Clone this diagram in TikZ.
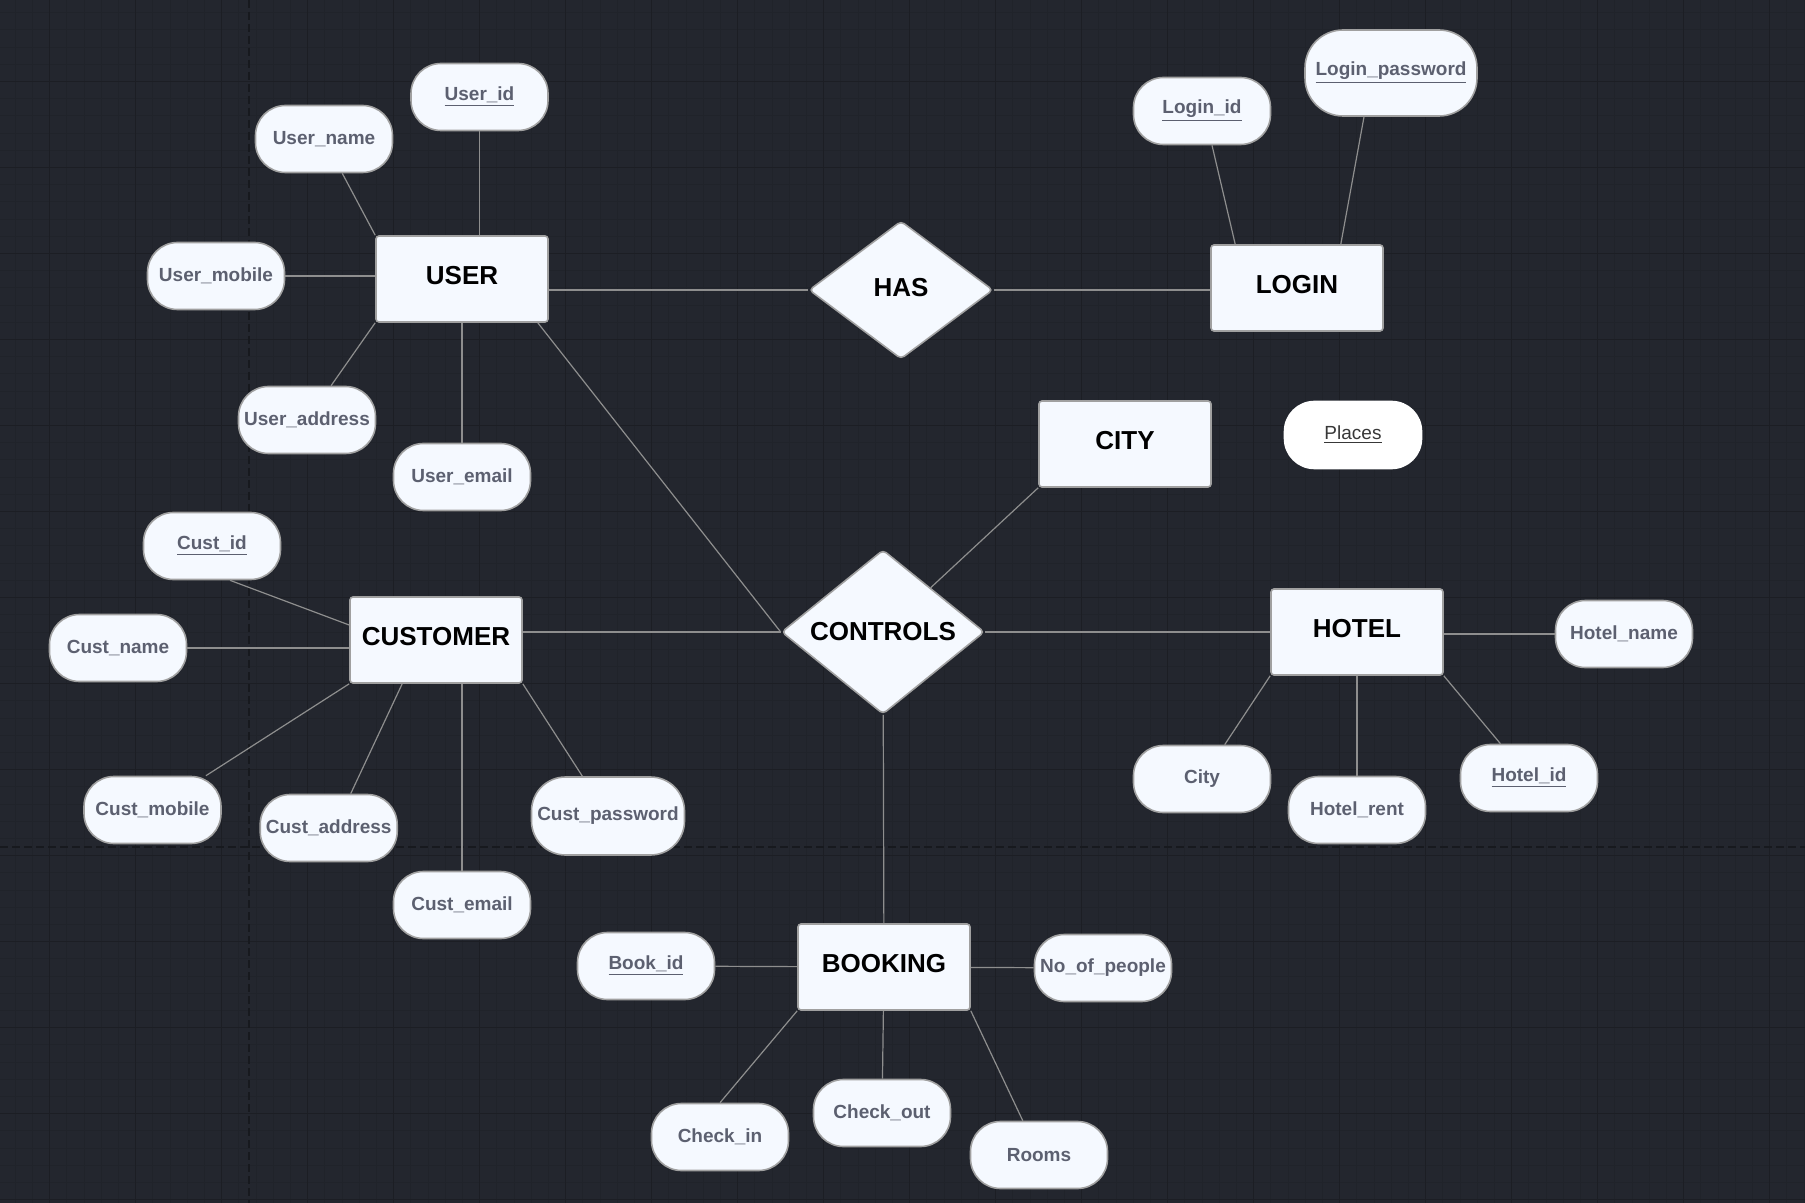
\documentclass[tikz,border=0pt]{standalone}
\usepackage{fontspec}
\setmainfont{Liberation Sans}
\usetikzlibrary{shapes.geometric,calc}

\definecolor{bgdark}{HTML}{23262E}
\definecolor{gridminor}{HTML}{20232A}
\definecolor{gridmajor}{HTML}{1C1E24}
\definecolor{pagedash}{HTML}{17191E}
\definecolor{boxfill}{HTML}{F5F9FF}
\definecolor{boxline}{HTML}{A0A0A0}
\definecolor{linkgray}{HTML}{8E8E8E}
\definecolor{attrtext}{HTML}{5C6070}

\newcommand{\keyattr}[1]{\underline{#1}}

\tikzset{
  entity/.style={draw=boxline, line width=0.8pt, fill=boxfill, rounded corners=1.5pt,
    minimum width=86pt, minimum height=43pt, inner sep=0pt, text height=9.4pt, text depth=4pt,
    font=\fontsize{13}{15}\selectfont\bfseries},
  relation/.style={diamond, draw=boxline, line width=0.8pt, fill=boxfill, rounded corners=2pt,
    inner sep=0pt, font=\fontsize{13}{15}\selectfont\bfseries},
  attr/.style={draw=boxline, line width=0.8pt, fill=boxfill, rounded corners=15pt,
    minimum width=68.5pt, minimum height=33.5pt, inner sep=0pt, text=attrtext,
    font=\fontsize{9.5}{11}\selectfont\bfseries},
  link/.style={draw=linkgray, line width=0.6pt},
}

\begin{document}
\begin{tikzpicture}[x=0.5pt,y=-0.5pt]

% canvas
\fill[bgdark] (0,0) rectangle (1805,1203);
\useasboundingbox (0,0) rectangle (1805,1203);
\foreach \gx in {15.2,32.4,...,1805} \draw[gridminor, line width=0.4pt] (\gx,0) -- (\gx,1203);
\foreach \gy in {12.7,29.9,...,1203} \draw[gridminor, line width=0.4pt] (0,\gy) -- (1805,\gy);
\foreach \gx in {49.6,135.6,...,1805} \draw[gridmajor, line width=0.5pt] (\gx,0) -- (\gx,1203);
\foreach \gy in {81.5,167.5,...,1203} \draw[gridmajor, line width=0.5pt] (0,\gy) -- (1805,\gy);
\draw[pagedash, line width=1pt, dash pattern=on 4pt off 2pt] (249,0) -- (249,1203);
\draw[pagedash, line width=1pt, dash pattern=on 4pt off 2pt] (0,847) -- (1805,847);

% entities and relations
\node[entity] (user) at (462,279) {USER};
\node[entity] (login) at (1297,288) {LOGIN};
\node[entity] (city) at (1125,444) {CITY};
\node[entity] (cust) at (436,640) {CUSTOMER};
\node[entity] (hotel) at (1357,632) {HOTEL};
\node[entity] (booking) at (884,967) {BOOKING};
\node[relation, minimum width=92pt, minimum height=69pt, text height=9.4pt, text depth=3pt] (has) at (901,290) {HAS};
\node[relation, minimum width=101.5pt, minimum height=78.5pt] (controls) at (883,632) {CONTROLS};

% user attributes
\node[attr] (uid) at (479.5,97) {\keyattr{User\_id}};
\node[attr] (uname) at (324,139) {User\_name};
\node[attr] (umobile) at (216,276) {User\_mobile};
\node[attr] (uaddr) at (307,420) {User\_address};
\node[attr] (uemail) at (462,477) {User\_email};

% login attributes
\node[attr] (lid) at (1202,111) {\keyattr{Login\_id}};
\node[attr, minimum width=86pt, minimum height=43pt, rounded corners=19pt] (lpw) at (1391,73) {\keyattr{Login\_password}};

\node[attr, draw=white, fill=white, text={black!78}, font=\fontsize{9.5}{11}\selectfont] (places) at (1353,435) {\keyattr{Places}};

% customer attributes
\node[attr] (cid) at (212,546) {\keyattr{Cust\_id}};
\node[attr] (cname) at (118,648) {Cust\_name};
\node[attr] (cmobile) at (152.5,810) {Cust\_mobile};
\node[attr] (caddr) at (328.7,828) {Cust\_address};
\node[attr] (cemail) at (462,905) {Cust\_email};
\node[attr, minimum width=76.5pt, minimum height=39pt, rounded corners=17pt] (cpw) at (608,816) {Cust\_password};

% hotel attributes
\node[attr] (hname) at (1624,634) {Hotel\_name};
\node[attr] (hcity) at (1202,779) {City};
\node[attr] (hrent) at (1357,810) {Hotel\_rent};
\node[attr] (hid) at (1529,778) {\keyattr{Hotel\_id}};

% booking attributes
\node[attr] (bid) at (646,966) {\keyattr{Book\_id}};
\node[attr] (nop) at (1103,968) {No\_of\_people};
\node[attr] (cin) at (720,1137) {Check\_in};
\node[attr] (cout) at (882,1113) {Check\_out};
\node[attr] (rooms) at (1039,1155) {Rooms};

% connectors
\draw[link] (uid) -- (uid |- user.north);
\draw[link] (uname) -- (user.north west);
\draw[link] (umobile) -- (umobile -| user.west);
\draw[link] (uaddr) -- (user.south west);
\draw[link] (uemail) -- (user);
\draw[link] (has) -- (has -| user.east);
\draw[link] (has) -- (has -| login.west);
\draw[link] ($(user.south east)+(-11,0)$) -- (controls.west);
\draw[link] ($(lid.south)+(10,0)$) -- ($(login.north west)+(25,0)$);
\draw[link] ($(lpw.south)+(-27,0)$) -- ($(login.north east)+(-43,0)$);

\draw[link] (controls) -- (city.south west);
\draw[link] (controls) -- (controls -| cust.east);
\draw[link] (controls) -- (controls -| hotel.west);
\draw[link] (controls) -- (booking);

\draw[link] ($(cid.south)+(18,0)$) -- ($(cust.west)+(0,-15)$);
\draw[link] (cname) -- (cname -| cust.west);
\draw[link] (cmobile) -- (cust.south west);
\draw[link] ($(caddr.north)+(22,0)$) -- ($(cust.south west)+(53,0)$);
\draw[link] (cemail) -- (cemail |- cust.south);
\draw[link] (cpw) -- (cust.south east);

\draw[link] (hname) -- (hname -| hotel.east);
\draw[link] (hcity) -- (hotel.south west);
\draw[link] (hrent) -- (hotel);
\draw[link] (hid) -- (hotel.south east);

\draw[link] (bid) -- (booking);
\draw[link] (nop) -- (booking);
\draw[link] (cin.north) -- (booking.south west);
\draw[link] (cout) -- (booking);
\draw[link] (rooms) -- (booking.south east);

\end{tikzpicture}
\end{document}
